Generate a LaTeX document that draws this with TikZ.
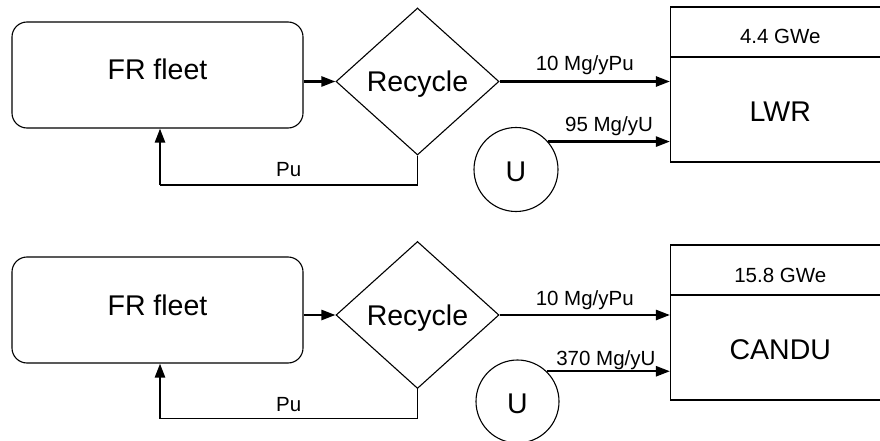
\documentclass[tikz,border=0pt]{standalone}
\usepackage{fontspec}
\setmainfont{Liberation Sans}
\usetikzlibrary{shapes.geometric,arrows.meta}
\begin{document}
\begin{tikzpicture}[x=1pt,y=-1pt,
  thinline/.style={line width=1.1pt},
  flow/.style={line width=2.4pt,-{Triangle[length=14pt,width=10pt]}},
  big/.style={font=\fontsize{28.5}{30}\selectfont},
  small/.style={font=\fontsize{20.5}{22}\selectfont},
  fleet/.style={draw,thinline,rounded corners=15pt,inner sep=0pt,minimum width=291pt,minimum height=106pt,big,text height=20pt,text depth=10pt},
  recyc/.style={draw,thinline,shape=diamond,inner sep=0pt,minimum width=163pt,minimum height=147pt,big,text height=21pt,text depth=0pt},
  src/.style={draw,thinline,shape=circle,inner sep=0pt,big,text height=24pt,text depth=0pt},
  cell/.style={draw,thinline,inner sep=0pt,minimum width=219.5pt,text height=24pt,text depth=0pt},
  lbl/.style={small,anchor=base,inner sep=0pt}
]
\useasboundingbox (0,0) rectangle (880,441);

% ---------- top panel ----------
\node[fleet] (FR1) at (157.5,75) {FR fleet};
\node[recyc] (Rec1) at (417.5,81.5) {Recycle};
\node[src,minimum size=84pt] (U1) at (516,169.5) {U};
\node[cell,minimum height=50pt,small] (P1) at (780.25,32) {4.4 GWe};
\node[cell,minimum height=105pt,big] (R1) at (780.25,109.5) {LWR};

\draw[flow] (Rec1.west -| FR1.east) -- (Rec1.west);
\draw[flow] (Rec1.east) -- node[lbl,yshift=10.8pt] (L1a) {10 Mg/yPu} (Rec1.east -| R1.west);
\draw[flow] (U1.41) -- node[lbl,yshift=10.3pt] (L1b) {95 Mg/yU} (U1.41 -| R1.west);
\coordinate (c1a) at (417.5,185);
\coordinate (c1b) at (160,185);
\draw[thinline] (Rec1.south) -- (c1a) -- node[lbl,yshift=8.3pt] (L1c) {Pu} (c1b);
\draw[flow] (c1b) -- (c1b |- FR1.south);

% ---------- bottom panel ----------
\node[fleet] (FR2) at (157.5,310) {FR fleet};
\node[recyc] (Rec2) at (417.5,315) {Recycle};
\node[src,minimum size=83pt] (U2) at (517.5,401.5) {U};
\node[cell,minimum height=50pt,small] (P2) at (780.25,270) {15.8 GWe};
\node[cell,minimum height=105pt,big] (R2) at (780.25,347.5) {CANDU};

\draw[flow] (Rec2.west -| FR2.east) -- (Rec2.west);
\draw[flow] (Rec2.east) -- node[lbl,yshift=10pt] (L2a) {10 Mg/yPu} (Rec2.east -| R2.west);
\draw[flow] (U2.46) -- node[lbl,pos=0.48,yshift=6pt] (L2b) {370 Mg/yU} (U2.46 -| R2.west);
\coordinate (c2a) at (417.5,418.5);
\coordinate (c2b) at (160,418.5);
\draw[thinline] (Rec2.south) -- (c2a) -- node[lbl,yshift=6.8pt] (L2c) {Pu} (c2b);
\draw[flow] (c2b) -- (c2b |- FR2.south);
\end{tikzpicture}
\end{document}
